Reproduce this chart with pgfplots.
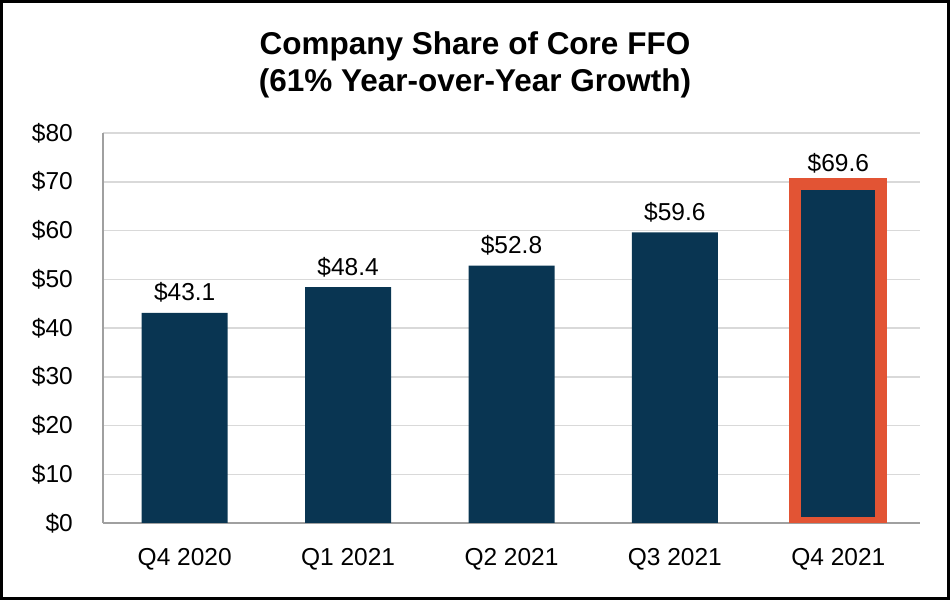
\documentclass[border=0pt]{standalone}
\usepackage{pgfplots}
\pgfplotsset{compat=1.18}
\usepackage{fontspec}
\setmainfont{Liberation Sans}
\definecolor{navy}{RGB}{9,53,82}
\definecolor{orng}{RGB}{226,84,52}
\definecolor{gridg}{RGB}{217,217,217}
\definecolor{spineg}{RGB}{160,160,160}
\begin{document}
\begin{tikzpicture}
\useasboundingbox (-103bp,-77bp) rectangle (847bp,523bp);
\begin{axis}[
  at={(0,0)}, anchor=south west,
  scale only axis,
  width=817bp, height=390bp,
  xmin=-0.5, xmax=4.5,
  ymin=0, ymax=80,
  xtick={0,1,2,3,4},
  xticklabels={Q4 2020,Q1 2021,Q2 2021,Q3 2021,Q4 2021},
  ytick={0,10,20,30,40,50,60,70,80},
  yticklabels={\$0,\$10,\$20,\$30,\$40,\$50,\$60,\$70,\$80},
  major tick length=0pt,
  axis x line*=bottom, axis y line*=left,
  axis line style={-, draw=spineg, line width=1.5bp},
  ymajorgrids, grid style={draw=gridg, line width=1.5bp},
  tick label style={font=\fontsize{24.5bp}{28bp}\selectfont},
  /pgf/number format/assume math mode=true,
  yticklabel style={inner sep=0pt, anchor=east, xshift=-30bp},
  xticklabel style={inner sep=0pt, anchor=north, yshift=-25bp},
  ybar, bar width=86bp, bar shift=0pt,
  nodes near coords={\$\pgfmathprintnumber[fixed,precision=1,fixed zerofill]{\pgfplotspointmeta}},
  every node near coord/.append style={font=\fontsize{24.5bp}{28bp}\selectfont, anchor=base, inner sep=0pt, yshift=12bp, text=black},
]
\addplot[fill=navy, draw=none] coordinates {(0,43.1) (1,48.4) (2,52.8) (3,59.6)};
\addplot[fill=navy, draw=orng, line width=12bp] coordinates {(4,69.6)};
\end{axis}
\node[anchor=base, font=\fontsize{31.5bp}{37bp}\selectfont\bfseries] at (372bp,468bp) {Company Share of Core FFO};
\node[anchor=base, font=\fontsize{31.5bp}{37bp}\selectfont\bfseries] at (372bp,431bp) {(61\% Year-over-Year Growth)};
\draw[line width=3bp, black] (-101.5bp,-75.5bp) rectangle (845.5bp,521.5bp);
\end{tikzpicture}
\end{document}
